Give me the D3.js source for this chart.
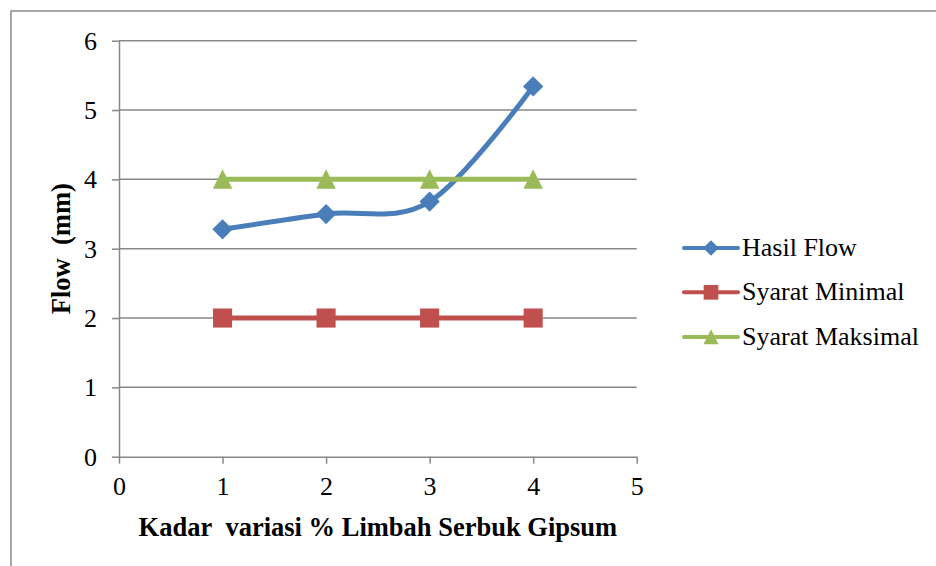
<!DOCTYPE html>
<html>
<head>
<meta charset="utf-8">
<script src="https://cdn.jsdelivr.net/npm/d3@7"></script>
<style>
  html, body { margin: 0; padding: 0; background: #fff; }
  svg { display: block; }
</style>
</head>
<body>
<svg id="chart" width="936" height="566"></svg>
<script>
// ---- data ----
const xValues = [1, 2, 3, 4];
const hasilFlow = [3.28, 3.50, 3.68, 5.34];
const syaratMinimal = [2, 2, 2, 2];
const syaratMaksimal = [4, 4, 4, 4];
const seriesNames = ["Hasil Flow", "Syarat Minimal", "Syarat Maksimal"];
const xTicks = [0, 1, 2, 3, 4, 5];
const yTicks = [0, 1, 2, 3, 4, 5, 6];
const xTitle = "Kadar\u00a0 variasi % Limbah Serbuk Gipsum";
const yTitle = "Flow\u00a0 (mm)";

const colors = ["#4A7EBB", "#C0504D", "#9BBB59"];
const markers = ["diamond", "square", "triangle"];
const smooth = [true, false, false];
const seriesData = [hasilFlow, syaratMinimal, syaratMaksimal];

const FONT = "'Liberation Serif', 'Times New Roman', serif";
const svg = d3.select("#chart");
const gridColor = "#878787";

// outer border (right/bottom run off the picture)
svg.append("rect").attr("x", 11).attr("y", 11).attr("width", 1000).attr("height", 1000)
  .attr("fill", "none").attr("stroke", "#8a8a8a").attr("stroke-width", 1.5);

const x = d3.scaleLinear().domain([0, 5]).range([119, 636.7]);
const y = d3.scaleLinear().domain([0, 6]).range([456.7, 40.7]);

// gridlines
svg.append("g").selectAll("line").data(yTicks.filter(d => d > 0)).join("line")
  .attr("x1", x(0)).attr("x2", x(5))
  .attr("y1", d => y(d)).attr("y2", d => y(d))
  .attr("stroke", gridColor).attr("stroke-width", 1.5);

// axes
const xAxis = svg.append("g").attr("transform", `translate(0,${y(0)})`)
  .call(d3.axisBottom(x).tickValues(xTicks).tickFormat(d3.format("d")).tickSize(7).tickSizeOuter(0).tickPadding(13));
const yAxis = svg.append("g").attr("transform", `translate(${x(0)},0)`)
  .call(d3.axisLeft(y).tickValues(yTicks).tickFormat(d3.format("d")).tickSize(7).tickSizeOuter(0).tickPadding(15));
[xAxis, yAxis].forEach(a => {
  a.select(".domain").attr("stroke", gridColor).attr("stroke-width", 1.5);
  a.selectAll(".tick line").attr("stroke", gridColor).attr("stroke-width", 1.5);
  a.selectAll(".tick text").style("font-size", "26px")
    .style("font-family", FONT).attr("fill", "#000");
});

// axis titles
svg.append("text").attr("x", (x(0) + x(5)) / 2).attr("y", 536)
  .attr("text-anchor", "middle").style("font-size", "26.5px").style("font-weight", "bold")
  .style("font-family", FONT).attr("fill", "#000").text(xTitle);
svg.append("text").attr("transform", `translate(69.5,${(y(0) + y(6)) / 2}) rotate(-90)`)
  .attr("text-anchor", "middle").style("font-size", "26.5px").style("font-weight", "bold")
  .style("font-family", FONT).attr("fill", "#000").text(yTitle);

function markerPath(type, cx, cy, s) {
  if (type === "diamond") {
    const r = s * 0.52;
    return `M${cx},${cy - r}L${cx + r},${cy}L${cx},${cy + r}L${cx - r},${cy}Z`;
  } else if (type === "square") {
    const r = s * 0.49;
    return `M${cx - r},${cy - r}H${cx + r}V${cy + r}H${cx - r}Z`;
  } else {
    const w = s * 0.5, h = s * 0.5;
    return `M${cx},${cy - h * 1.05}L${cx + w},${cy + h * 0.95}L${cx - w},${cy + h * 0.95}Z`;
  }
}

// series
seriesData.forEach((vals, i) => {
  const pts = xValues.map((xv, j) => [x(xv), y(vals[j])]);
  const line = d3.line().curve(smooth[i] ? d3.curveCardinal.tension(0) : d3.curveLinear);
  svg.append("path").attr("d", line(pts)).attr("fill", "none")
    .attr("stroke", colors[i]).attr("stroke-width", 5)
    .attr("stroke-linejoin", "round").attr("stroke-linecap", "round");
  svg.append("g").selectAll("path").data(pts).join("path")
    .attr("d", p => markerPath(markers[i], p[0], p[1], 19.5))
    .attr("fill", colors[i]);
});

// legend
const legendY = [248, 292.3, 337];
seriesNames.forEach((name, i) => {
  const g = svg.append("g");
  g.append("line").attr("x1", 684).attr("x2", 738).attr("y1", legendY[i]).attr("y2", legendY[i])
    .attr("stroke", colors[i]).attr("stroke-width", 4).attr("stroke-linecap", "round");
  g.append("path").attr("d", markerPath(markers[i], 711, legendY[i], 15)).attr("fill", colors[i]);
  g.append("text").attr("x", 742).attr("y", legendY[i] + 8).style("font-size", "26px")
    .style("font-family", FONT).attr("fill", "#000").text(name);
});
</script>
</body>
</html>
